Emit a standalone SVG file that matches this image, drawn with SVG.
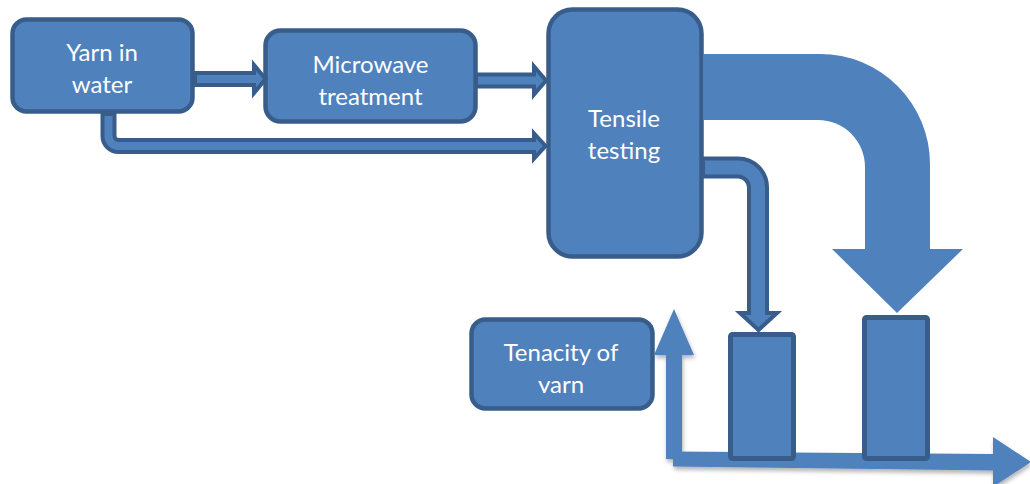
<svg xmlns="http://www.w3.org/2000/svg" width="1030" height="484" viewBox="0 0 1030 484">
<style>
.box{fill:#4F81BD;stroke:#385D8A;stroke-width:4.5}
.arr{fill:#4F81BD;stroke:#385D8A;stroke-width:4;stroke-linejoin:miter}
.blk{fill:#4F81BD;stroke:none}
.bar{fill:#4F81BD;stroke:#385D8A;stroke-width:5}
.t{font-family:Lato,"Liberation Sans",sans-serif;font-size:24px;fill:#FFFFFF;text-anchor:middle}
</style>
<defs>
<filter id="sh" x="-20%" y="-20%" width="140%" height="140%">
<feDropShadow dx="1" dy="3" stdDeviation="2" flood-color="#000" flood-opacity="0.3"/>
</filter>
<clipPath id="clipT"><rect x="469" y="317" width="187" height="76"/></clipPath>
</defs>
<g id="nodes">
<g id="yarn-in-water">
<rect class="box" x="12.5" y="19.5" width="180" height="92" rx="14"/>
<text class="t" x="102" y="61">Yarn in</text>
<text class="t" x="102" y="93">water</text>
</g>
<g id="microwave-treatment">
<rect class="box" x="265.5" y="30.5" width="210" height="91" rx="15"/>
<text class="t" x="370.5" y="73">Microwave</text>
<text class="t" x="370.5" y="105">treatment</text>
</g>
<g id="tensile-testing">
<rect class="box" x="548.5" y="9.5" width="153" height="247" rx="24"/>
<text class="t" x="624" y="127">Tensile</text>
<text class="t" x="624" y="159">testing</text>
</g>
<g id="tenacity-of-yarn">
<rect class="box" x="471.5" y="319.5" width="181" height="89" rx="14"/>
<g clip-path="url(#clipT)">
<text class="t" x="561" y="361">Tenacity of</text>
<text class="t" x="561" y="393">yarn</text>
</g>
</g>
<g id="axes" filter="url(#sh)">
<polygon class="blk" points="674,309 694,355 682,355 682,459 666,459 666,355 654,355"/>
<polygon class="blk" points="673,451.5 993,454 993,437 1031,462 993,487 993,470.5 673,466.5"/>
</g>
<g id="bar-1">
<rect class="bar" x="730.5" y="334.5" width="63" height="124" rx="2"/>
</g>
<g id="bar-2">
<rect class="bar" x="864.5" y="317.5" width="63" height="141" rx="2"/>
</g>
</g>
<g id="connectors">
<path class="arr" d="M195,73 H254 V65 L265.5,79 L254,93 V85 H195 Z"/>
<path class="arr" d="M476,74.5 H534 V66.5 L546,80.5 L534,94.5 V86.5 H476 Z"/>
<path class="arr" d="M102.5,114 V136 A16 16 0 0 0 118.5,152 H534 V158.5 L545.5,146 L534,133.5 V140 H118.5 A4 4 0 0 1 114.5,136 V114 Z"/>
<path class="blk" d="M703,54 H820 A110 110 0 0 1 930,164 V249 H963 L897,313 L832,249 H865 V167 A47 47 0 0 0 818,120 H703 Z"/>
<path class="arr" d="M703,158.5 H738 A29 29 0 0 1 767,187.5 V313 H777 L758.5,330 L740,313 H749 V187.5 A11 11 0 0 0 738,176.5 H703 Z"/>
</g>
</svg>
